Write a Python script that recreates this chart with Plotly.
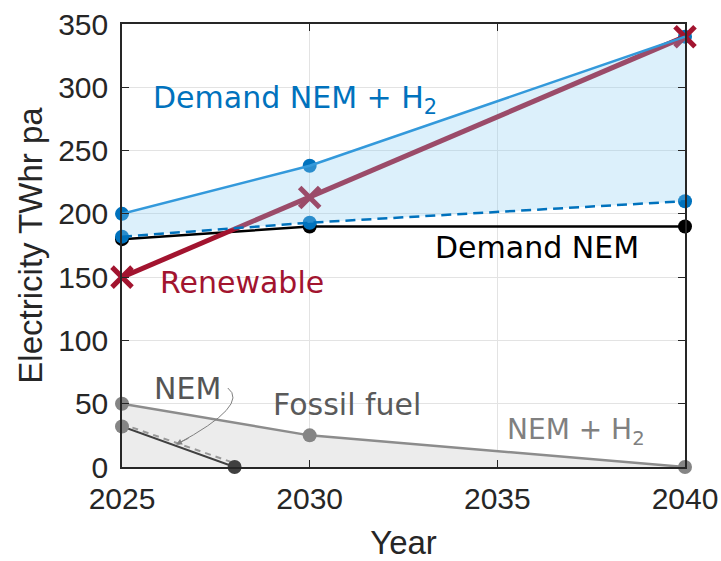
import plotly.graph_objects as go

# ---- data -------------------------------------------------------------
years = [2025, 2030, 2040]
demand_nem_h2 = [200, 238, 340]          # total demand incl. hydrogen (upper bound)
demand_nem_h2_low = [182, 193, 210]      # lower bound of the hydrogen band
demand_nem = [180, 190, 190]             # NEM demand only
renewable = [150, 213, 340]

fossil_nem_h2 = [50, 25, 0]              # fossil fuel, NEM + H2 scenario
fossil_years_nem = [2025, 2028]
fossil_nem = [32, 0]                     # fossil fuel, NEM scenario
fossil_nem_alt = [34, 3]                 # fossil fuel, NEM scenario (alternative)

x_ticks = [2025, 2030, 2035, 2040]
y_ticks = [0, 50, 100, 150, 200, 250, 300, 350]

# ---- colours ----------------------------------------------------------
BLUE = "#0072BD"
LIGHT_BLUE_LINE = "#3399db"
BAND_FILL = "rgba(138,205,241,0.30)"
RED = "#A2142F"
AX = "#262626"

fig = go.Figure()

# fossil fuel band (NEM + H2)
fig.add_trace(go.Scatter(
    x=years, y=fossil_nem_h2, mode="lines+markers", fill="tozeroy",
    fillcolor="#ececec", line=dict(color="#8c8c8c", width=2.5),
    marker=dict(size=14, color="#858585"), cliponaxis=False, showlegend=False))

# fossil fuel, NEM scenario
fig.add_trace(go.Scatter(
    x=fossil_years_nem, y=fossil_nem_alt, mode="lines",
    line=dict(color="#999999", width=2, dash="6px,5px"),
    cliponaxis=False, showlegend=False))
fig.add_trace(go.Scatter(
    x=fossil_years_nem, y=fossil_nem, mode="lines+markers",
    line=dict(color="#404040", width=2),
    marker=dict(size=14, color=["#858585", "#404040"]),
    cliponaxis=False, showlegend=False))

# demand NEM
fig.add_trace(go.Scatter(
    x=years, y=demand_nem, mode="lines+markers",
    line=dict(color="black", width=2.5), marker=dict(size=14, color="black"),
    cliponaxis=False, showlegend=False))

# demand markers (NEM + H2), drawn beneath the shaded band
fig.add_trace(go.Scatter(
    x=years, y=demand_nem_h2_low, mode="markers",
    marker=dict(size=14, color=BLUE), cliponaxis=False, showlegend=False))
fig.add_trace(go.Scatter(
    x=years, y=demand_nem_h2, mode="markers",
    marker=dict(size=14, color=BLUE), cliponaxis=False, showlegend=False))

# renewable generation
fig.add_trace(go.Scatter(
    x=years, y=renewable, mode="lines+markers",
    line=dict(color=RED, width=5),
    marker=dict(symbol="x-thin", size=20, line=dict(color=RED, width=5)),
    cliponaxis=False, showlegend=False))

# translucent hydrogen band on top
fig.add_trace(go.Scatter(
    x=years, y=demand_nem_h2_low, mode="lines", line=dict(width=0),
    hoverinfo="skip", showlegend=False))
fig.add_trace(go.Scatter(
    x=years, y=demand_nem_h2, mode="lines", line=dict(width=0),
    fill="tonexty", fillcolor=BAND_FILL, hoverinfo="skip", showlegend=False))

# band edges
fig.add_trace(go.Scatter(
    x=years, y=demand_nem_h2, mode="lines",
    line=dict(color=LIGHT_BLUE_LINE, width=2.5), cliponaxis=False, showlegend=False))
fig.add_trace(go.Scatter(
    x=years, y=demand_nem_h2_low, mode="lines",
    line=dict(color=BLUE, width=2.5, dash="10px,6px"), cliponaxis=False, showlegend=False))

# ---- labels -----------------------------------------------------------
LBL = "DejaVu Sans"
labels = [
    (2025.78, 290.5, "Demand NEM + H<sub>2</sub>", BLUE, 30),
    (2025.96, 145.5, "Renewable", RED, 30),
    (2033.29, 173.8, "Demand NEM", "black", 30),
    (2028.98, 49.0, "Fossil fuel", "#5a5a5a", 30),
    (2025.80, 62.0, "NEM", "#555555", 30),
    (2035.20, 28.4, "NEM + H<sub>2</sub>", "#808080", 28),
]
for x, y, t, c, s in labels:
    fig.add_annotation(x=x, y=y, text=t, showarrow=False, xanchor="left",
                       yanchor="middle", font=dict(family=LBL, size=s, color=c))

# curved pointer from the "NEM" label to its line
fig.add_shape(type="path", xref="x", yref="y",
              path="M 2027.82,62.4 Q 2028.41,49.0 2026.46,18.0",
              line=dict(color="#808080", width=1))
fig.add_annotation(x=2026.44, y=17.8, ax=14, ay=-7, text="", showarrow=True,
                   arrowhead=2, arrowsize=1.2, arrowwidth=1, arrowcolor="#808080")

# ---- axes -------------------------------------------------------------
TICK_FONT = dict(family="Liberation Sans", size=30, color=AX)
fig.update_xaxes(
    range=[2025, 2040], tickvals=x_ticks, ticktext=[str(v) for v in x_ticks],
    showgrid=True, gridcolor="#e3e3e3", gridwidth=1,
    showline=True, linecolor=AX, linewidth=1.5, mirror="ticks",
    ticks="inside", ticklen=7, tickcolor=AX, tickfont=TICK_FONT,
    ticklabelstandoff=4, automargin=False,
    title=dict(text="Year", font=dict(family="Liberation Sans", size=33, color=AX),
               standoff=18),
    zeroline=False)
fig.update_yaxes(
    range=[0, 350], tickvals=y_ticks, ticktext=[str(v) for v in y_ticks],
    showgrid=True, gridcolor="#e3e3e3", gridwidth=1,
    showline=True, linecolor=AX, linewidth=1.5, mirror="ticks",
    ticks="inside", ticklen=7, tickcolor=AX, tickfont=TICK_FONT,
    ticklabelstandoff=6, automargin=False,
    title=dict(text="Electricity TWhr pa",
               font=dict(family="Liberation Sans", size=33, color=AX), standoff=6),
    zeroline=False)

fig.update_layout(
    width=721, height=561,
    margin=dict(l=122, r=36, t=24, b=94),
    plot_bgcolor="white", paper_bgcolor="white",
    showlegend=False)

fig.write_html("out.html")
